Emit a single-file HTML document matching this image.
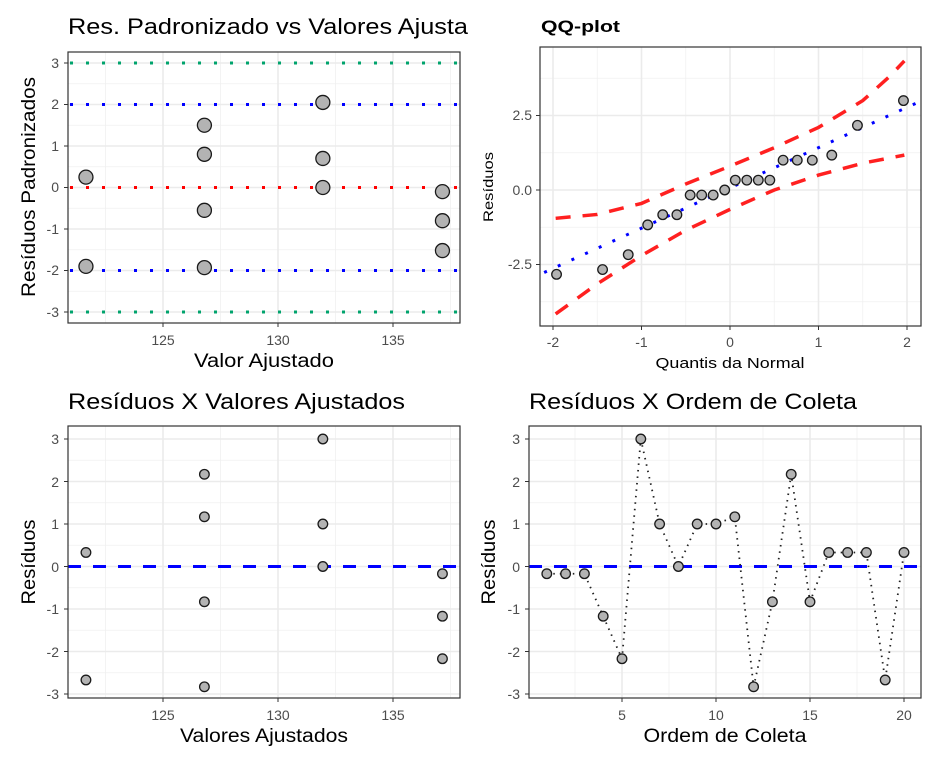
<!DOCTYPE html>
<html><head><meta charset="utf-8"><style>
html,body{margin:0;padding:0;background:#fff}
svg{display:block;font-family:"Liberation Sans","DejaVu Sans",sans-serif}
.t{font-size:14px;fill:#4d4d4d}
.ti{font-size:22px;fill:#000}
.ax{font-size:19px;fill:#000}
</style></head><body>
<svg id="s" width="942" height="759" viewBox="0 0 942 759" xmlns="http://www.w3.org/2000/svg">
<rect width="942" height="759" fill="#fff"/>
<g id="g"></g>
<text class="ti" x="68" y="34" textLength="400" lengthAdjust="spacingAndGlyphs">Res. Padronizado vs Valores Ajusta</text>
<text x="541" y="32" style="font-size:17px;font-weight:bold" textLength="79" lengthAdjust="spacingAndGlyphs">QQ-plot</text>
<text class="ti" x="68" y="409" textLength="337" lengthAdjust="spacingAndGlyphs">Resíduos X Valores Ajustados</text>
<text class="ti" x="529" y="409" textLength="328" lengthAdjust="spacingAndGlyphs">Resíduos X Ordem de Coleta</text>
<g class="t" text-anchor="end">
<text x="59" y="68">3</text><text x="59" y="109">2</text><text x="59" y="151">1</text><text x="59" y="192">0</text><text x="59" y="234">-1</text><text x="59" y="275">-2</text><text x="59" y="317">-3</text>
<text x="59" y="444">3</text><text x="59" y="487">2</text><text x="59" y="529">1</text><text x="59" y="572">0</text><text x="59" y="614">-1</text><text x="59" y="657">-2</text><text x="59" y="699">-3</text>
<text x="520" y="444">3</text><text x="520" y="487">2</text><text x="520" y="529">1</text><text x="520" y="572">0</text><text x="520" y="614">-1</text><text x="520" y="657">-2</text><text x="520" y="699">-3</text>
<text x="532" y="120">2.5</text><text x="532" y="195">0.0</text><text x="532" y="269">-2.5</text>
</g>
<g class="t" text-anchor="middle">
<text x="163" y="345">125</text><text x="278" y="345">130</text><text x="393" y="345">135</text>
<text x="163" y="720">125</text><text x="278" y="720">130</text><text x="393" y="720">135</text>
<text x="622" y="720">5</text><text x="716" y="720">10</text><text x="810" y="720">15</text><text x="904" y="720">20</text>
<text x="553" y="347">-2</text><text x="641.5" y="347">-1</text><text x="730" y="347">0</text><text x="818.5" y="347">1</text><text x="907" y="347">2</text>
</g>
<g class="ax" text-anchor="middle">
<text x="264" y="367" textLength="140" lengthAdjust="spacingAndGlyphs">Valor Ajustado</text>
<text x="264" y="742" textLength="168" lengthAdjust="spacingAndGlyphs">Valores Ajustados</text>
<text x="725" y="742" textLength="163" lengthAdjust="spacingAndGlyphs">Ordem de Coleta</text>
<text transform="translate(35,187) rotate(-90)" textLength="220" lengthAdjust="spacingAndGlyphs">Resíduos Padronizados</text>
<text transform="translate(35,562) rotate(-90)" textLength="85" lengthAdjust="spacingAndGlyphs">Resíduos</text>
<text transform="translate(495,562) rotate(-90)" textLength="85" lengthAdjust="spacingAndGlyphs">Resíduos</text>
<text x="730" y="368" style="font-size:15px" textLength="149" lengthAdjust="spacingAndGlyphs">Quantis da Normal</text>
<text transform="translate(493,187) rotate(-90)" style="font-size:14px" textLength="70" lengthAdjust="spacingAndGlyphs">Resíduos</text>
</g>
</svg>
<script>
var NS="http://www.w3.org/2000/svg",G=document.getElementById("g");
function el(n,a){var e=document.createElementNS(NS,n);for(var k in a)e.setAttribute(k,a[k]);G.appendChild(e);return e;}
function line(x1,y1,x2,y2,st,w,da){var a={x1:x1,y1:y1,x2:x2,y2:y2,stroke:st,"stroke-width":w};if(da)a["stroke-dasharray"]=da;return el("line",a);}
function panel(x0,y0,x1,y1,X,Y,xmaj,xmin,ymaj,ymin){
 ymin.forEach(function(v){line(x0,Y(v),x1,Y(v),"#f0f0f0",0.8)});
 xmin.forEach(function(v){line(X(v),y0,X(v),y1,"#f0f0f0",0.8)});
 ymaj.forEach(function(v){line(x0,Y(v),x1,Y(v),"#ebebeb",1.6);line(x0-4,Y(v),x0,Y(v),"#333",1)});
 xmaj.forEach(function(v){line(X(v),y0,X(v),y1,"#ebebeb",1.6);line(X(v),y1,X(v),y1+4,"#333",1)});
}
function box(x0,y0,x1,y1){el("rect",{x:x0,y:y0,width:x1-x0,height:y1-y0,fill:"none",stroke:"#333","stroke-width":1.2});}
function pt(x,y,r){el("circle",{cx:x,cy:y,r:r,fill:"#b3b3b3",stroke:"#1a1a1a","stroke-width":1.3});}
var X1=function(v){return 163+(v-125)*23},Y1=function(r){return 187.5-r*41.5};
panel(68,52,460,323,X1,Y1,[125,130,135],[122.5,127.5,132.5,137.5],[-3,-2,-1,0,1,2,3],[-2.5,-1.5,-0.5,0.5,1.5,2.5]);
[[3,"#00a36c"],[2,"#0000ff"],[0,"#ff0000"],[-2,"#0000ff"],[-3,"#00a36c"]].forEach(function(p){line(70,Y1(p[0]),460,Y1(p[0]),p[1],3,"3 13")});
var xs=[121.65,126.8,131.95,137.15];
[[0,0.25],[0,-1.9],[1,1.5],[1,0.8],[1,-0.55],[1,-1.93],[2,2.05],[2,0.7],[2,0],[3,-0.1],[3,-0.8],[3,-1.52]].forEach(function(p){pt(X1(xs[p[0]]),Y1(p[1]),7)});
box(68,52,460,323);
var X2=function(q){return 730+q*88.5},Y2=function(r){return 190-r*29.8};
panel(540,47,921,326,X2,Y2,[-2,-1,0,1,2],[-1.5,-0.5,0.5,1.5],[-2.5,0,2.5],[-3.75,-1.25,1.25,3.75]);
line(X2(-2.1),Y2(0.11-1.37*2.1),921,Y2(0.11+1.37*2.1),"#0000ff",3,"3 12");
function poly(pts,col){el("polyline",{points:pts.map(function(p){return X2(p[0])+","+Y2(p[1])}).join(" "),fill:"none",stroke:col,"stroke-width":3.5,"stroke-dasharray":"15 12"});}
poly([[-1.97,-0.95],[-1.5,-0.82],[-1,-0.45],[-0.5,0.2],[0,0.8],[0.5,1.42],[1,2.1],[1.5,3.0],[1.8,3.8],[1.97,4.33]],"#ff2020");
poly([[-1.97,-4.16],[-1.5,-3.15],[-1,-2.2],[-0.5,-1.35],[0,-0.65],[0.5,0],[1,0.5],[1.5,0.9],[1.97,1.17]],"#ff2020");
var q=[-1.96,-1.44,-1.15,-0.93,-0.76,-0.6,-0.45,-0.32,-0.19,-0.06,0.06,0.19,0.32,0.45,0.6,0.76,0.93,1.15,1.44,1.96];
var r=[-2.83,-2.67,-2.17,-1.17,-0.83,-0.83,-0.17,-0.17,-0.17,0,0.33,0.33,0.33,0.33,1,1,1,1.17,2.17,3];
q.forEach(function(v,i){pt(X2(v),Y2(r[i]),4.8)});
box(540,47,921,326);
var Y3=function(r){return 566.5-r*42.5};
panel(68,426,460,698,X1,Y3,[125,130,135],[122.5,127.5,132.5,137.5],[-3,-2,-1,0,1,2,3],[-2.5,-1.5,-0.5,0.5,1.5,2.5]);
line(68,Y3(0),460,Y3(0),"#0000ff",3,"13 12");
[[0,0.33],[0,-2.67],[1,2.17],[1,1.17],[1,-0.83],[1,-2.83],[2,3],[2,1],[2,0],[3,-0.17],[3,-1.17],[3,-2.17]].forEach(function(p){pt(X1(xs[p[0]]),Y3(p[1]),4.8)});
box(68,426,460,698);
var X4=function(i){return 622+(i-5)*18.8};
panel(529,426,921,698,X4,Y3,[5,10,15,20],[2.5,7.5,12.5,17.5],[-3,-2,-1,0,1,2,3],[-2.5,-1.5,-0.5,0.5,1.5,2.5]);
line(529,Y3(0),921,Y3(0),"#0000ff",3,"13 12");
var o=[-0.17,-0.17,-0.17,-1.17,-2.17,3,1,0,1,1,1.17,-2.83,-0.83,2.17,-0.83,0.33,0.33,0.33,-2.67,0.33];
el("polyline",{points:o.map(function(v,i){return X4(i+1)+","+Y3(v)}).join(" "),fill:"none",stroke:"#222","stroke-width":1.8,"stroke-dasharray":"1.5 5"});
o.forEach(function(v,i){pt(X4(i+1),Y3(v),4.8)});
box(529,426,921,698);
</script>
</body></html>
